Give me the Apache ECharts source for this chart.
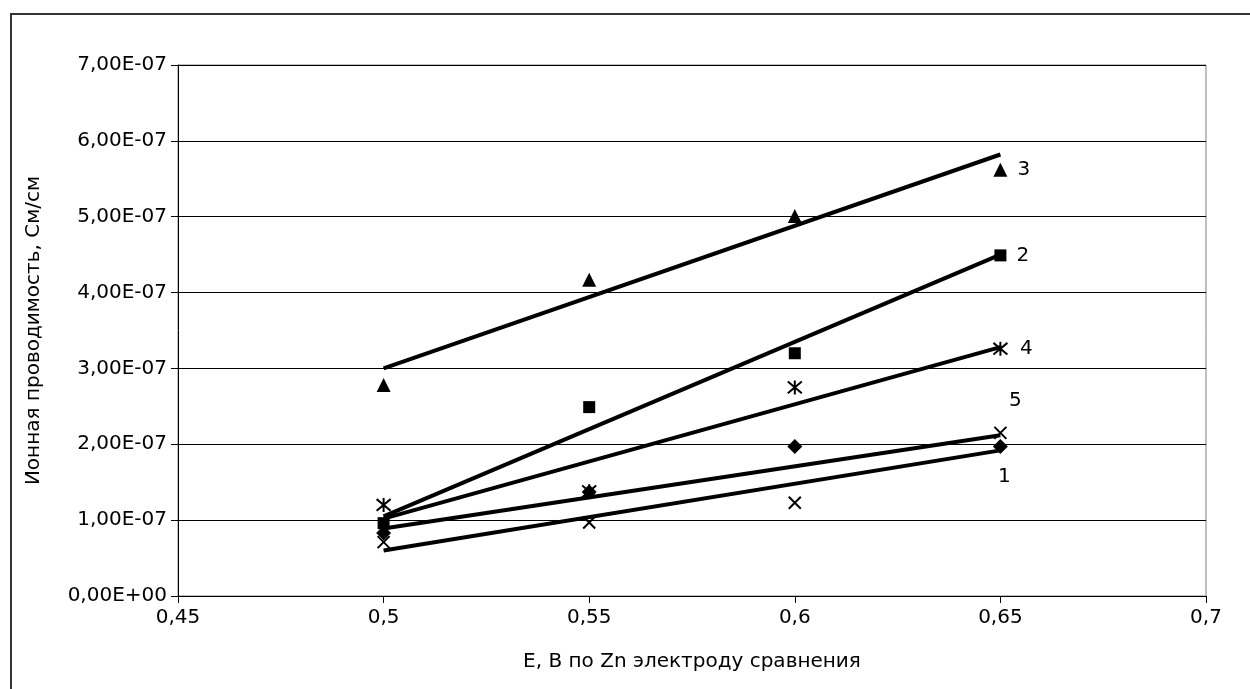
<!DOCTYPE html>
<html>
<head>
<meta charset="utf-8">
<script src="https://cdn.jsdelivr.net/npm/echarts@6/dist/echarts.min.js"></script>
<style>
html, body { margin: 0; padding: 0; background: #fff; }
#chart { width: 1250px; height: 689px; }
</style>
</head>
<body>
<div id="chart"></div>
<script>
var potentials = [0.5, 0.55, 0.6, 0.65];

// measured points, См/см
var series1 = [0.83e-7, 1.37e-7, 1.97e-7, 1.97e-7];
var series2 = [0.96e-7, 2.49e-7, 3.2e-7, 4.49e-7];
var series3 = [2.78e-7, 4.17e-7, 5.01e-7, 5.62e-7];
var series4 = [1.2e-7, 1.38e-7, 2.75e-7, 3.26e-7];
var series5 = [0.71e-7, 0.97e-7, 1.23e-7, 2.15e-7];

// trend lines, read at both ends
var trendX = [0.5, 0.65];
var trend1 = [0.89e-7, 2.12e-7];
var trend2 = [1.05e-7, 4.5e-7];
var trend3 = [3.0e-7, 5.82e-7];
var trend4 = [1.02e-7, 3.28e-7];
var trend5 = [0.6e-7, 1.92e-7];

var seriesNames = ['1', '2', '3', '4', '5'];

document.addEventListener("DOMContentLoaded", function() {

    var chart = echarts.init(document.getElementById('chart'));

    var font = 'DejaVu Sans, sans-serif';
    var fs = 20;

    function pairs(xs, ys) {
        return xs.map(function(x, i) { return [x, ys[i]]; });
    }

    function sciLabel(v) {
        if (v === 0) return '0,00E+00';
        var exp = Math.floor(Math.log10(Math.abs(v)) + 1e-9);
        var mant = v / Math.pow(10, exp);
        var e = Math.abs(exp);
        return mant.toFixed(2).replace('.', ',') + 'E' + (exp < 0 ? '-' : '+') + (e < 10 ? '0' + e : e);
    }

    var crossPath = 'path://M0 0 L10 10 M10 0 L0 10';
    var starPath = 'path://M0 0 L10 10 M10 0 L0 10 M5 -1 L5 11';

    var points = [
        { data: series1, symbol: 'diamond', size: 15, label: { position: 'bottom', distance: 13, offset: [4, 0] } },
        { data: series2, symbol: 'rect', size: 12, label: { position: 'right', distance: 10 } },
        { data: series3, symbol: 'triangle', size: 14, label: { position: 'right', distance: 10 } },
        { data: series4, symbol: starPath, size: 14, stroke: true, label: { position: 'right', distance: 10 } },
        { data: series5, symbol: crossPath, size: 12, stroke: true, label: { position: 'top', distance: 14, offset: [15, 0] } }
    ];

    var trends = [trend1, trend2, trend3, trend4, trend5];

    var series = [];

    trends.forEach(function(t) {
        series.push({
            type: 'line',
            data: pairs(trendX, t),
            symbol: 'none',
            lineStyle: { color: '#000', width: 4 },
            silent: true,
            z: 2
        });
    });

    points.forEach(function(p, k) {
        var data = pairs(potentials, p.data).map(function(d, i) {
            if (i !== potentials.length - 1) return d;
            return {
                value: d,
                label: Object.assign({
                    show: true,
                    formatter: seriesNames[k],
                    color: '#000',
                    fontSize: fs,
                    fontFamily: font
                }, p.label)
            };
        });
        series.push({
            type: 'scatter',
            name: seriesNames[k],
            data: data,
            symbol: p.symbol,
            symbolSize: p.size,
            itemStyle: p.stroke
                ? { color: 'none', borderColor: '#000', borderWidth: 2, opacity: 1 }
                : { color: '#000', opacity: 1 },
            z: 3
        });
    });

    var option = {
        backgroundColor: '#fff',
        animation: false,
        grid: {
            left: 178,
            right: 44,
            top: 65,
            bottom: 93,
            show: true,
            borderColor: '#808080',
            borderWidth: 1
        },
        xAxis: {
            type: 'value',
            min: 0.45,
            max: 0.7,
            interval: 0.05,
            name: 'E, В по Zn электроду сравнения',
            nameLocation: 'middle',
            nameGap: 56,
            nameTextStyle: { color: '#000', fontSize: fs, fontFamily: font },
            axisLine: { lineStyle: { color: '#000', width: 1 } },
            axisTick: { show: true, length: 7, lineStyle: { color: '#000' } },
            axisLabel: {
                color: '#000',
                fontSize: fs,
                fontFamily: font,
                margin: 12,
                formatter: function(v) { return String(+v.toFixed(2)).replace('.', ','); }
            },
            splitLine: { show: false }
        },
        yAxis: {
            type: 'value',
            min: 0,
            max: 7e-7,
            interval: 1e-7,
            name: 'Ионная проводимость, См/см',
            nameLocation: 'middle',
            nameGap: 134,
            nameTextStyle: { color: '#000', fontSize: fs, fontFamily: font },
            axisLine: { show: true, lineStyle: { color: '#000', width: 1 } },
            axisTick: { show: true, length: 7, lineStyle: { color: '#000' } },
            axisLabel: {
                color: '#000',
                fontSize: fs,
                fontFamily: font,
                margin: 11,
                formatter: sciLabel
            },
            splitLine: { show: true, lineStyle: { color: '#000', width: 1 } }
        },
        graphic: [
            {
                type: 'polyline',
                shape: { points: [[11, 700], [11, 14], [1260, 14]] },
                style: { stroke: '#333', lineWidth: 2, fill: null },
                silent: true
            }
        ],
        series: series
    };

    chart.setOption(option);

});
</script>
</body>
</html>
